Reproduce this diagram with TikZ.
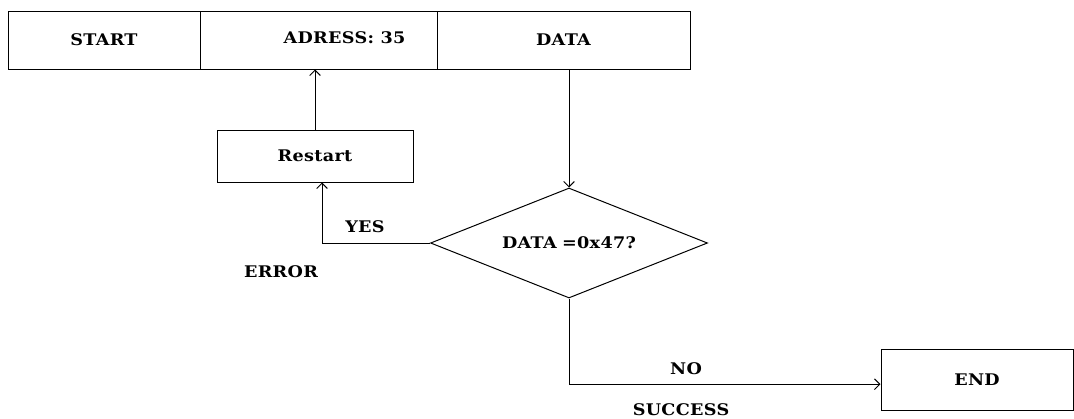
\documentclass[tikz,border=0pt]{standalone}
\usepackage{fontspec}
\setmainfont{DejaVu Serif}[FakeStretch=1.1,LetterSpace=2]
\usetikzlibrary{shapes.geometric,arrows.meta}

\begin{document}
\begin{tikzpicture}[x=0.75pt,y=-0.75pt,line width=0.75pt,
  font=\fontsize{12}{14}\selectfont\bfseries,
  box/.style={draw,rectangle,inner sep=0pt},
  flow/.style={-{Straight Barb[length=4pt,width=8pt]}}]
\useasboundingbox (0,0) rectangle (1074,418);

% frame
\node[box,minimum width=144pt,minimum height=43.5pt] (start) at (104,40) {START};
\node[box,minimum width=177.75pt,minimum height=43.5pt,
  label={[xshift=19.5pt,yshift=2pt]center:ADRESS: 35}] (adress) at (318.5,40) {};
\node[box,minimum width=189.75pt,minimum height=43.5pt] (data) at (563.5,40) {DATA};

\node[box,minimum width=147pt,minimum height=39pt] (restart) at (315,156) {Restart};
\node[draw,diamond,aspect=2.5,inner sep=0pt,minimum width=207.75pt,minimum height=82.5pt] (dec) at (569,243) {DATA\,\,=0x47?};
\node[box,minimum width=144pt,minimum height=45.75pt] (end) at (977,379.5) {END};

\node (yes) at (365,227) {YES};
\node (error) at (281,272) {ERROR};
\node (no) at (686,369) {NO};
\node (success) at (681,410) {SUCCESS};

\draw[flow] (restart.north) -- (restart.north |- adress.south);
\draw[flow] (dec.north |- data.south) -- (dec.north);
\draw[flow] (dec.west) -| ([xshift=5.25pt]restart.south);
\draw[flow] (dec.south) |- ([yshift=-3.5pt]end.west);
\end{tikzpicture}
\end{document}
